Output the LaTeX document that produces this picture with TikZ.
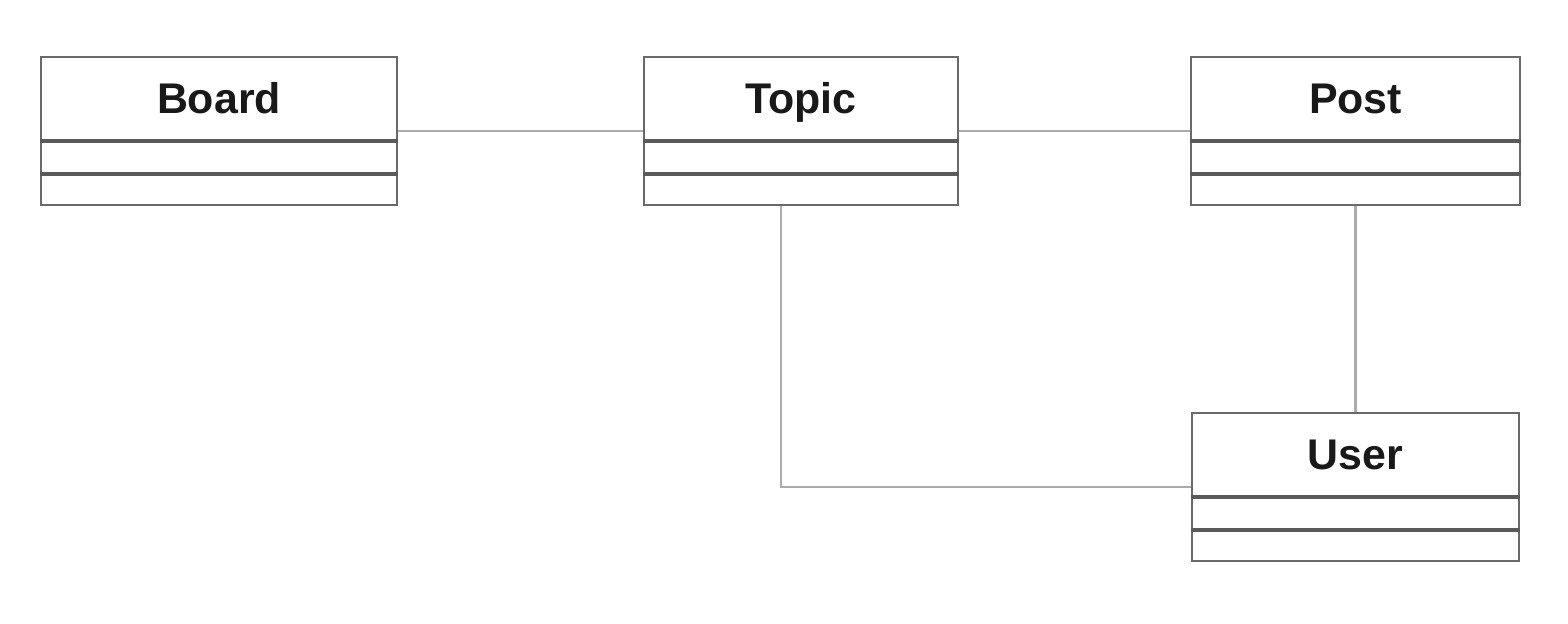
\documentclass[tikz,border=0pt]{standalone}
\usepackage{fontspec}
\setmainfont{Liberation Sans}
\usetikzlibrary{calc}
\definecolor{boxline}{HTML}{6A6A6A}
\definecolor{sepline}{HTML}{5A5A5A}
\definecolor{conline}{HTML}{ABABAB}
\tikzset{
  classbox/.style={draw=boxline, line width=0.75pt, fill=white, rectangle, inner sep=0pt, minimum height=1.48cm},
  classtitle/.style={font=\fontsize{12.2}{14}\selectfont\bfseries, text=black!90, inner sep=0pt, anchor=base},
  sep/.style={draw=sepline, line width=1.15pt},
  conn/.style={draw=conline, line width=0.7pt}
}
\newcommand{\umlclass}[5]{%
  \node[classbox, minimum width=#4cm] (#1) at (#2,#3) {};
  \node[classtitle] (#1t) at ($(#1.north)+(0,58)$) {#5};
  \draw[sep] ($(#1.north west)+(0,85)$) -- ($(#1.north east)+(0,85)$);
  \draw[sep] ($(#1.north west)+(0,118)$) -- ($(#1.north east)+(0,118)$);
}
\begin{document}
\begin{tikzpicture}[x=0.01cm,y=-0.01cm]
\useasboundingbox (0,0) rectangle (1568,623);
\umlclass{board}{219}{131}{3.56}{Board}
\umlclass{topic}{801}{131}{3.14}{Topic}
\umlclass{post}{1355.5}{131}{3.29}{Post}
\umlclass{user}{1355.5}{487}{3.27}{User}
\coordinate (tdown) at ($(topic.south)+(-20,0)$);
\draw[conn] (board.east) -- (topic.west);
\draw[conn] (topic.east) -- (post.west);
\draw[conn] (post.south) -- (user.north);
\draw[conn] (tdown) |- (user.west);
\end{tikzpicture}
\end{document}
